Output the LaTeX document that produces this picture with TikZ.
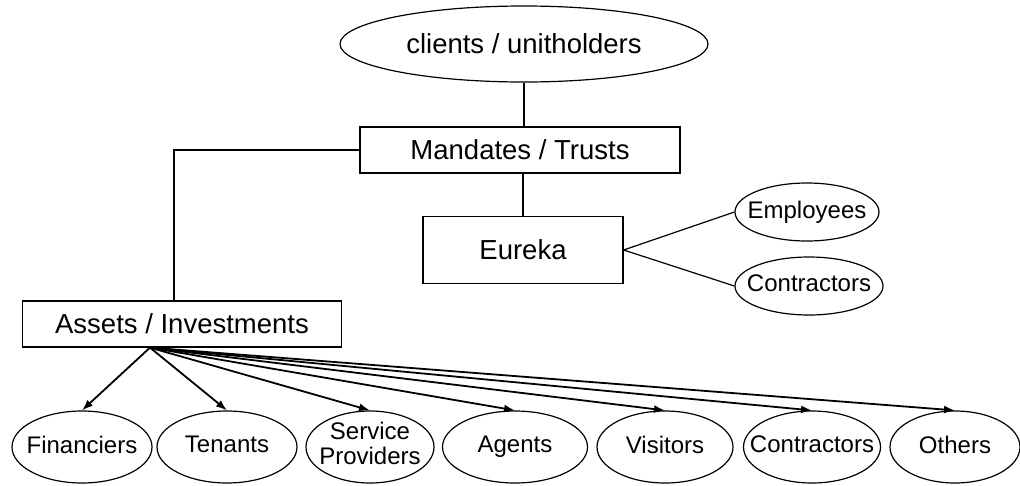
\documentclass[tikz,border=0pt]{standalone}
\usepackage{fontspec}
\setmainfont{Liberation Sans}
\usetikzlibrary{positioning,shapes.geometric,arrows.meta}
\newcommand{\nb}[1]{\makebox[0pt]{\vphantom{Ag}#1}}

\begin{document}
\begin{tikzpicture}[x=1pt,y=-1pt,>={Latex[length=11pt,width=8pt]},
	big/.style={font=\fontsize{27.5}{30}\selectfont},
	box/.style={draw,rectangle,big,inner sep=0pt,line width=1.2pt},
	party/.style={draw,ellipse,inner sep=0pt,line width=1.2pt,minimum height=72pt,font=\fontsize{24}{25}\selectfont}]
	\useasboundingbox (0,0) rectangle (1020,485);
	% top
	\node[draw,ellipse,big,inner sep=0pt,line width=1.2pt,minimum width=368pt,minimum height=76pt] (clients) at (524,44) {clients / unitholders};
	\node[box,minimum width=320pt,minimum height=46pt] (mandates) at (520,150) {Mandates / Trusts};
	\node[box,minimum width=200pt,minimum height=67pt] (eureka) at (523,250) {Eureka};
	\node[box,minimum width=319pt,minimum height=46pt] (assets) at (182,324) {Assets / Investments};
	
	% staff of Eureka
	\node[party,minimum width=144pt,minimum height=58pt] (employees) at (807,212) {\nb{Employees}};
	\node[party,minimum width=148pt,minimum height=58pt] (staffcon) at (809,286) {\nb{Contractors}};
	
	% bottom row
	\node[party,minimum width=140pt] (fin) at (82,447) {\nb{Financiers}};
	\node[party,minimum width=140pt] (ten) at (227,447) {\nb{Tenants}};
	\node[party,minimum width=128pt] (serv) at (370,447) {\makebox[0pt]{\begin{tabular}{@{}c@{}}Service\\Providers\end{tabular}}};
	\node[party,minimum width=145pt] (agt) at (515,447) {\nb{Agents}};
	\node[party,minimum width=136pt] (vis) at (665,447) {\nb{Visitors}};
	\node[party,minimum width=137pt] (con) at (812,447) {\nb{Contractors}};
	\node[party,minimum width=130pt] (oth) at (955,447) {\nb{Others}};
	
	% plain links
	\draw[line width=1.2pt] (clients) -- (clients |- mandates.north);
	\draw[line width=1.2pt] (eureka.north) -- (eureka |- mandates.south);
	\draw[line width=1.2pt] (mandates.west) -| ([xshift=-8pt]assets.north);
	\draw[line width=1.2pt] (eureka.east) -- (employees.west);
	\draw[line width=1.2pt] (eureka.east) -- (staffcon.west);
	
	% arrows to the parties
	\coordinate (hub) at ([xshift=-32pt]assets.south);
	\draw[->,line width=1.8pt] (hub) -- (fin.north);
	\draw[->,line width=1.8pt] (hub) -- (ten.north);
	\draw[->,line width=1.8pt] (hub) -- (serv.north);
	\draw[->,line width=1.8pt] (hub) -- (agt.north);
	\draw[->,line width=1.8pt] (hub) -- (vis.north);
	\draw[->,line width=1.8pt] (hub) -- (con.north);
	\draw[->,line width=1.8pt] (hub) -- (oth.north);
\end{tikzpicture}
\end{document}
